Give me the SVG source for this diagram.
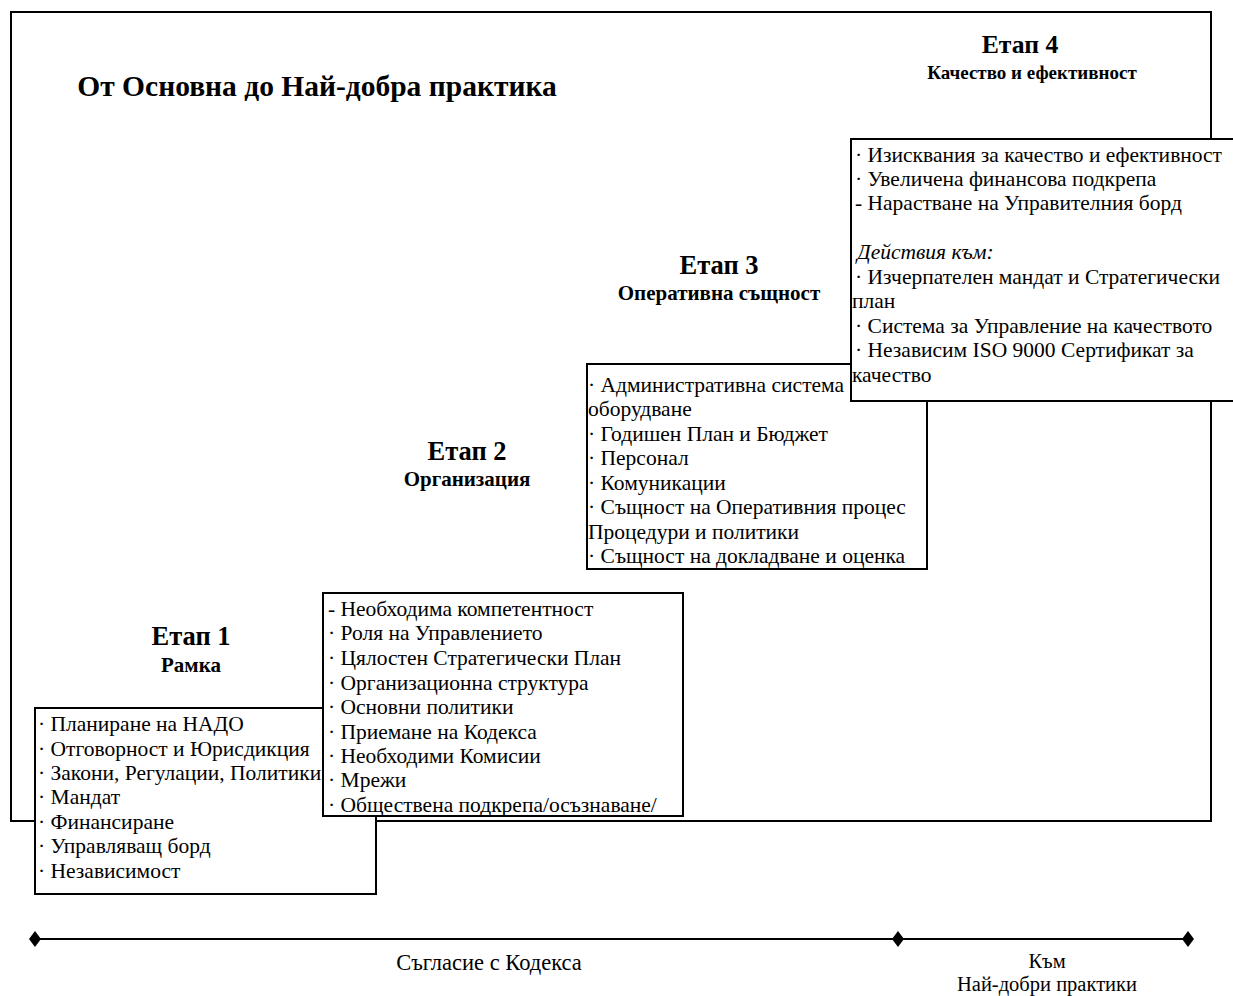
<svg xmlns="http://www.w3.org/2000/svg" width="1233" height="996" viewBox="0 0 1233 996">
<style>
.box{fill:#fff;stroke:#000;stroke-width:2}
.t{font-family:"Liberation Serif","Times New Roman",serif;font-size:21.5px;fill:#000}
.h{font-family:"Liberation Serif","Times New Roman",serif;font-weight:bold;fill:#000;text-anchor:middle}
.ax{font-family:"Liberation Serif","Times New Roman",serif;font-size:20.5px;fill:#000;text-anchor:middle}
.axl{font-size:22.5px}
</style>
<defs>
<marker id="dia" viewBox="-8 -8 16 16" markerWidth="16" markerHeight="16" markerUnits="userSpaceOnUse" refX="0" refY="0">
<path d="M-6,0 L0,-8 L6,0 L0,8 Z" fill="#000"/>
</marker>
</defs>
<rect width="1233" height="996" fill="#fff"/>
<g id="frame">
<rect x="11" y="12" width="1200" height="809" fill="none" stroke="#000" stroke-width="2"/>
</g>
<text id="title" class="h" x="317" y="96" font-size="29.5">От Основна до Най-добра практика</text>
<g id="stage1">
<text class="h" x="191" y="645" font-size="26.5">Етап 1</text>
<text class="h" x="191" y="672" font-size="21">Рамка</text>
<rect class="box" x="35" y="708" width="341" height="186"/>
<text class="t" x="38" y="731">· Планиране на НАДО</text>
<text class="t" x="38" y="756">· Отговорност и Юрисдикция</text>
<text class="t" x="38" y="780">· Закони, Регулации, Политики</text>
<text class="t" x="38" y="804">· Мандат</text>
<text class="t" x="38" y="829">· Финансиране</text>
<text class="t" x="38" y="853">· Управляващ борд</text>
<text class="t" x="38" y="878">· Независимост</text>
</g>
<g id="stage2">
<text class="h" x="467" y="460" font-size="26.5">Етап 2</text>
<text class="h" x="467" y="486" font-size="21">Организация</text>
<rect class="box" x="323" y="593" width="360" height="223"/>
<text class="t" x="328" y="616">- Необходима компетентност</text>
<text class="t" x="328" y="640">· Роля на Управлението</text>
<text class="t" x="328" y="665">· Цялостен Стратегически План</text>
<text class="t" x="328" y="690">· Организационна структура</text>
<text class="t" x="328" y="714">· Основни политики</text>
<text class="t" x="328" y="739">· Приемане на Кодекса</text>
<text class="t" x="328" y="763">· Необходими Комисии</text>
<text class="t" x="328" y="787">· Мрежи</text>
<text class="t" x="328" y="812">· Обществена подкрепа/осъзнаване/</text>
</g>
<g id="stage3">
<text class="h" x="719" y="274" font-size="26.5">Етап 3</text>
<text class="h" x="719" y="300" font-size="21">Оперативна същност</text>
<rect class="box" x="587" y="364" width="340" height="205"/>
<text class="t" x="588" y="392">· Административна система</text>
<text class="t" x="588" y="416">оборудване</text>
<text class="t" x="588" y="441">· Годишен План и Бюджет</text>
<text class="t" x="588" y="465">· Персонал</text>
<text class="t" x="588" y="490">· Комуникации</text>
<text class="t" x="588" y="514">· Същност на Оперативния процес</text>
<text class="t" x="588" y="539">Процедури и политики</text>
<text class="t" x="588" y="563">· Същност на докладване и оценка</text>
</g>
<g id="stage4">
<text class="h" x="1020" y="53" font-size="25.7">Етап 4</text>
<text class="h" x="1032" y="79" font-size="19">Качество и ефективност</text>
<rect class="box" x="851" y="139" width="400" height="262"/>
<text class="t" x="855" y="162">· Изисквания за качество и ефективност</text>
<text class="t" x="855" y="186">· Увеличена финансова подкрепа</text>
<text class="t" x="855" y="210">- Нарастване на Управителния борд</text>
<text class="t" x="857" y="259" font-style="italic">Действия към:</text>
<text class="t" x="855" y="284">· Изчерпателен мандат и Стратегически</text>
<text class="t" x="852" y="308">план</text>
<text class="t" x="855" y="333">· Система за Управление на качеството</text>
<text class="t" x="855" y="357">· Независим ISO 9000 Сертификат за</text>
<text class="t" x="852" y="382">качество</text>
</g>
<g id="connectors">
<path d="M35,939 L898,939 L1188,939" fill="none" stroke="#000" stroke-width="2" marker-start="url(#dia)" marker-mid="url(#dia)" marker-end="url(#dia)"/>
</g>
<g id="axis-labels">
<text class="ax axl" x="489" y="970">Съгласие с Кодекса</text>
<text class="ax" x="1047" y="968">Към</text>
<text class="ax" x="1047" y="991">Най-добри практики</text>
</g>
</svg>
